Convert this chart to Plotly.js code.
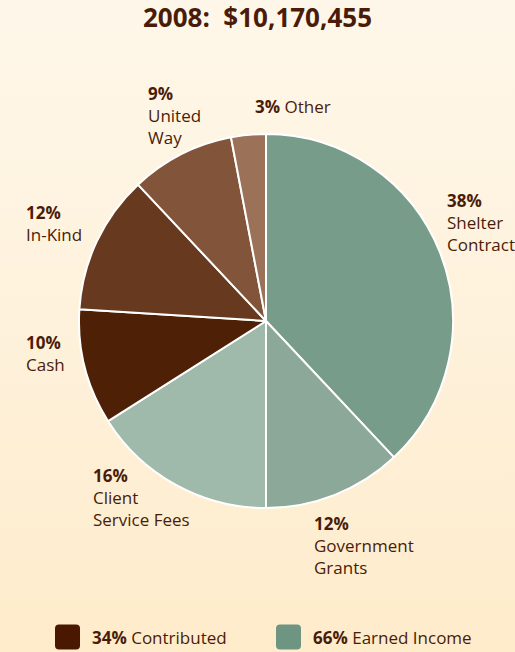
<!DOCTYPE html>
<html>
<head>
<meta charset="utf-8">
<script src="https://cdn.plot.ly/plotly-3.0.1.min.js"></script>
<style>
  html, body { margin: 0; padding: 0; }
  body { width: 515px; height: 652px; background: linear-gradient(to bottom, #fef7e9 0%, #fef1da 55%, #feeccb 100%); overflow: hidden; }
  #chart { width: 515px; height: 652px; }
</style>
</head>
<body>
<div id="chart"></div>
<script>
// ---- data ----
var categories = ["Shelter Contract", "Government Grants", "Client Service Fees", "Cash", "In-Kind", "United Way", "Other"];
var labelLines = [["Shelter", "Contract"], ["Government", "Grants"], ["Client", "Service Fees"], ["Cash"], ["In-Kind"], ["United", "Way"], ["Other"]];
var percents = [38, 12, 16, 10, 12, 9, 3];
var sliceColors = ["#789c8a", "#8ca898", "#9fb9aa", "#4e2106", "#673a1f", "#82553a", "#9b7157"];
var groupLabels = ["Contributed", "Earned Income"];
var groupPercents = [34, 66];
var groupColors = ["#4a1800", "#6e9482"];
var titleText = "2008:  $10,170,455";

// ---- layout helpers (pixel positions of outside labels: left x, first-line center y) ----
var W = 515, H = 652;
var labelAnchors = [[445, 199], [312, 522], [91, 474], [24, 341], [24, 211], [146, 92], [253, 105]];
var inlineLabel = [false, false, false, false, false, false, true];
var textColor = "#4a1c08";
var fontFam = "'Open Sans', 'DejaVu Sans', sans-serif";

function px(x) { return x / W; }
function py(y) { return 1 - y / H; }

var cx = 266, cy = 321, R = 187;

var trace = {
  type: "pie",
  values: percents,
  labels: categories,
  marker: { colors: sliceColors, line: { color: "#ffffff", width: 2 } },
  sort: false,
  direction: "clockwise",
  rotation: 0,
  textinfo: "none",
  hoverinfo: "label+percent",
  showlegend: false,
  domain: { x: [px(cx - R), px(cx + R)], y: [py(cy + R), py(cy - R)] }
};

var annotations = [];
categories.forEach(function (c, i) {
  var txt;
  if (inlineLabel[i]) {
    txt = "<b>" + percents[i] + "%</b> " + labelLines[i].join(" ");
  } else {
    txt = "<b>" + percents[i] + "%</b><br>" + labelLines[i].join("<br>");
  }
  annotations.push({
    xref: "paper", yref: "paper",
    x: px(labelAnchors[i][0]), y: py(labelAnchors[i][1] - 12),
    xanchor: "left", yanchor: "top", align: "left",
    showarrow: false, text: txt,
    font: { family: fontFam, size: 17, color: textColor }
  });
});

// legend
var legendX = [55, 276], legendY = 637, sq = 25, rr = 4;
var shapes = [];
groupLabels.forEach(function (g, i) {
  var x0 = legendX[i], y0 = legendY - sq / 2, x1 = x0 + sq, y1 = y0 + sq;
  var path = "M " + px(x0 + rr) + " " + py(y0) +
    " L " + px(x1 - rr) + " " + py(y0) +
    " Q " + px(x1) + " " + py(y0) + " " + px(x1) + " " + py(y0 + rr) +
    " L " + px(x1) + " " + py(y1 - rr) +
    " Q " + px(x1) + " " + py(y1) + " " + px(x1 - rr) + " " + py(y1) +
    " L " + px(x0 + rr) + " " + py(y1) +
    " Q " + px(x0) + " " + py(y1) + " " + px(x0) + " " + py(y1 - rr) +
    " L " + px(x0) + " " + py(y0 + rr) +
    " Q " + px(x0) + " " + py(y0) + " " + px(x0 + rr) + " " + py(y0) + " Z";
  shapes.push({ type: "path", xref: "paper", yref: "paper", path: path, fillcolor: groupColors[i], line: { width: 0 } });
  annotations.push({
    xref: "paper", yref: "paper",
    x: px(x1 + 10), y: py(legendY),
    xanchor: "left", yanchor: "middle", align: "left",
    showarrow: false, text: "<b>" + groupPercents[i] + "%</b> " + g,
    font: { family: fontFam, size: 17, color: textColor }
  });
});

var layout = {
  width: W, height: H,
  margin: { l: 0, r: 0, t: 0, b: 0 },
  paper_bgcolor: "rgba(0,0,0,0)",
  plot_bgcolor: "rgba(0,0,0,0)",
  title: {
    text: "<b>" + titleText + "</b>",
    x: 0.5, xanchor: "center", xref: "paper",
    y: py(18), yanchor: "middle", yref: "container",
    font: { family: fontFam, size: 26, color: textColor }
  },
  annotations: annotations,
  shapes: shapes,
  showlegend: false
};

Plotly.newPlot("chart", [trace], layout, { displayModeBar: false, staticPlot: true });
</script>
</body>
</html>
